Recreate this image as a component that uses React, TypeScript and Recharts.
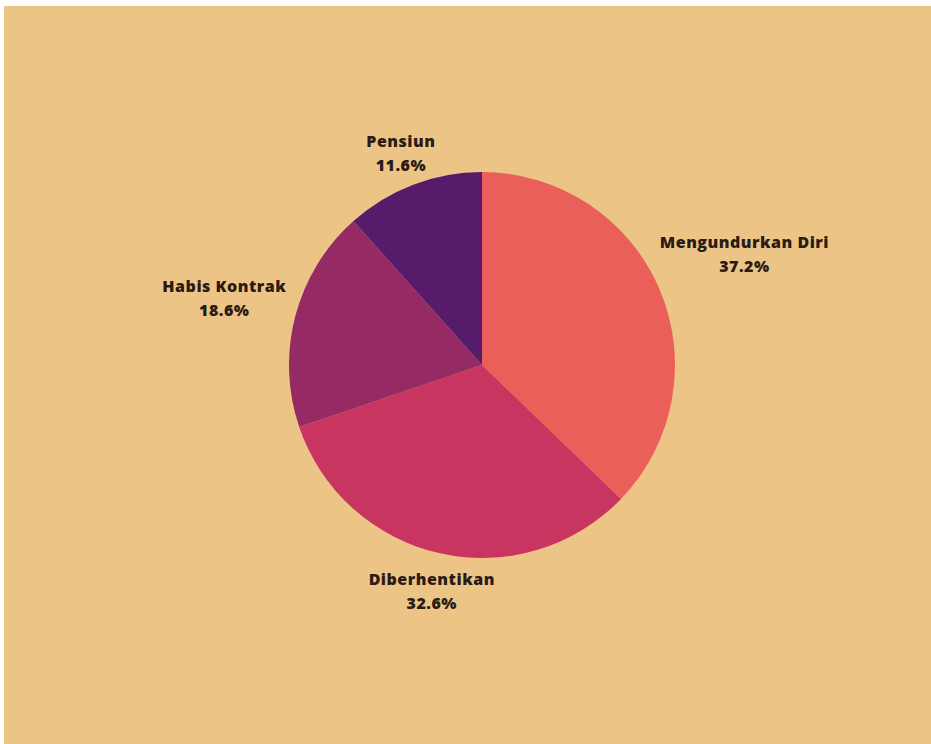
import React from "react";
import { PieChart, Pie, Cell } from "recharts";

const categories = ["Mengundurkan Diri", "Diberhentikan", "Habis Kontrak", "Pensiun"];
const values = [37.2, 32.6, 18.6, 11.6];
const colors = ["#EA5F5A", "#C93561", "#952A64", "#561B6A"];

const data = categories.map((name, i) => ({ name, value: values[i] }));

const RAD = Math.PI / 180;

const renderLabel = (props: any) => {
  const { cx, cy, midAngle, outerRadius, name, value } = props;
  const cos = Math.cos(-midAngle * RAD);
  const sin = Math.sin(-midAngle * RAD);
  const halfW = String(name).length * 5.2;
  const halfH = 20;
  const dist = outerRadius + 3 + halfW * Math.abs(cos) + halfH * Math.abs(sin);
  const x = cx + dist * cos;
  const y = cy + dist * sin;
  return (
    <text
      x={x}
      y={y}
      textAnchor="middle"
      fill="#2B1B14"
      style={{ fontFamily: "'Open Sans', sans-serif", fontWeight: 800, fontSize: 16, letterSpacing: 0.5 }}
    >
      <tspan x={x} dy={-5}>{name}</tspan>
      <tspan x={x} dy={24}>{`${Number(value).toFixed(1)}%`}</tspan>
    </text>
  );
};

export default function App() {
  return (
    <div
      style={{
        position: "absolute",
        left: 4,
        top: 6,
        width: 927,
        height: 738,
        background: "#ECC586",
      }}
    >
      <PieChart width={927} height={738} margin={{ top: 0, right: 0, bottom: 0, left: 0 }}>
        <Pie
          data={data}
          dataKey="value"
          nameKey="name"
          cx={478}
          cy={359}
          outerRadius={193}
          startAngle={90}
          endAngle={-270}
          stroke="none"
          label={renderLabel}
          labelLine={false}
          isAnimationActive={false}
        >
          {data.map((d, i) => (
            <Cell key={d.name} fill={colors[i]} />
          ))}
        </Pie>
      </PieChart>
    </div>
  );
}
